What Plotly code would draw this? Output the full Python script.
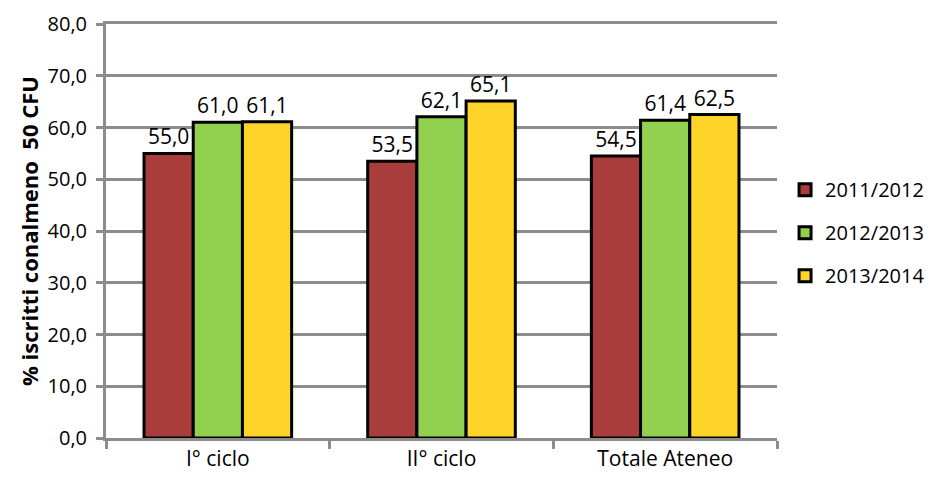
import plotly.graph_objects as go

categories = ["I° ciclo", "II° ciclo", "Totale Ateneo"]
series_names = ["2011/2012", "2012/2013", "2013/2014"]
values_2011 = [55.0, 53.5, 54.5]
values_2012 = [61.0, 62.1, 61.4]
values_2013 = [61.1, 65.1, 62.5]
colors = ["#A83D3B", "#92D050", "#FFD42A"]
y_ticks = [0, 10, 20, 30, 40, 50, 60, 70, 80]

FONT = "Open Sans, sans-serif"

fig = go.Figure()
for i, (name, vals) in enumerate(zip(series_names, [values_2011, values_2012, values_2013])):
    fig.add_trace(go.Bar(
        x=categories, y=vals, name=name,
        marker=dict(color=colors[i], line=dict(color="black", width=3)),
        texttemplate="%{y:.1f}", textposition="outside", constraintext="none",
        textfont=dict(size=21, color="black", family=FONT),
        cliponaxis=False, legendgroup=name,
    ))

fig.update_layout(
    width=933, height=481,
    margin=dict(l=98, r=164, t=16, b=51, autoexpand=False),
    paper_bgcolor="white", plot_bgcolor="white",
    separators=",.",
    barmode="group", bargap=0.34, bargroupgap=0,
    font=dict(family=FONT, size=21, color="black"),
    showlegend=True,
    legend=dict(x=1.012, y=0.496, xanchor="left", yanchor="middle",
                font=dict(size=20, family=FONT), tracegroupgap=14,
                traceorder="grouped"),
)
fig.update_xaxes(
    showline=True, linecolor="#8C8C8C", linewidth=3, mirror=True,
    ticks="outside", tickson="boundaries", ticklen=8, tickwidth=3, tickcolor="#8C8C8C",
    tickfont=dict(size=21, family=FONT), showgrid=False, automargin=False,
)
fig.update_yaxes(
    range=[0, 80], tickvals=y_ticks, tickformat=".1f",
    showline=True, linecolor="#8C8C8C", linewidth=3,
    showgrid=True, gridcolor="#8C8C8C", gridwidth=3,
    ticks="outside", ticklen=7, tickwidth=3, tickcolor="#8C8C8C",
    tickfont=dict(size=20, family=FONT), zeroline=False, automargin=False,
    ticklabeloverflow="allow", ticklabelstandoff=5,
    title=dict(text="<b>% iscritti conalmeno  50 CFU</b>", font=dict(size=22, family=FONT), standoff=3),
)

fig.write_html("out.html")
